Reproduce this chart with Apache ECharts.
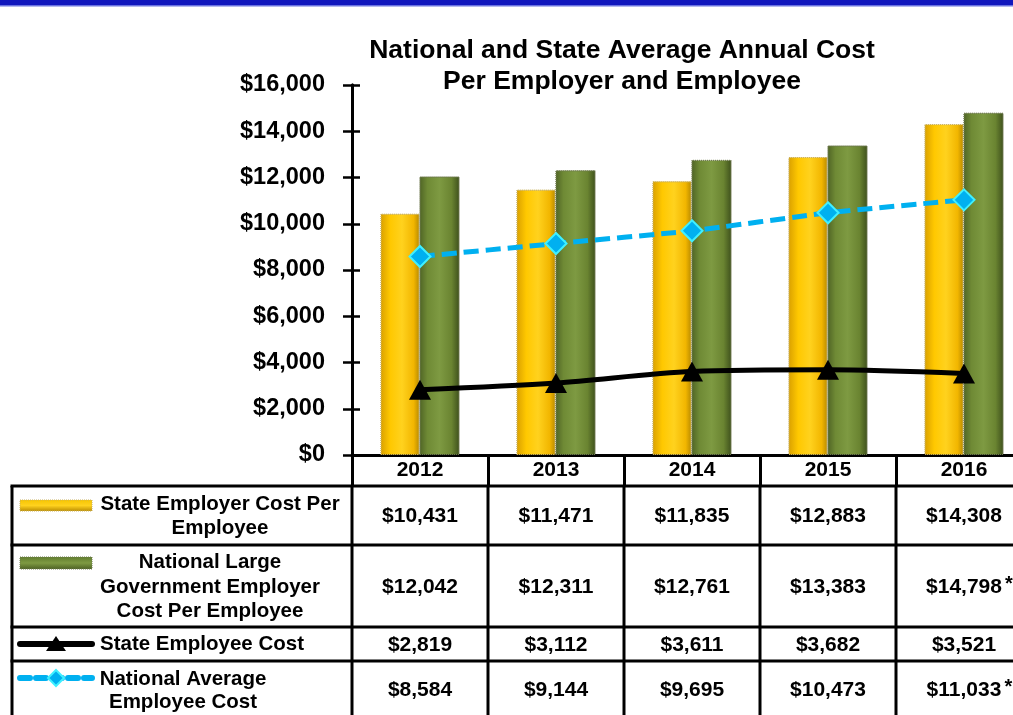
<!DOCTYPE html>
<html>
<head>
<meta charset="utf-8">
<script src="https://cdn.jsdelivr.net/npm/echarts@6/dist/echarts.min.js"></script>
<style>
  html, body { margin: 0; padding: 0; background: #ffffff; }
  #chart { width: 1013px; height: 715px; }
</style>
</head>
<body>
<div id="chart"></div>
<script>
// ---- data ----
const years = ['2012', '2013', '2014', '2015', '2016'];
const stateEmployer = [10431, 11471, 11835, 12883, 14308];
const nationalLargeGov = [12042, 12311, 12761, 13383, 14798];
const stateEmployee = [2819, 3112, 3611, 3682, 3521];
const nationalAvgEmployee = [8584, 9144, 9695, 10473, 11033];
const nationalLargeGovNotes = ['', '', '', '', '*'];
const nationalAvgEmployeeNotes = ['', '', '', '', '*'];
const rowLabels = [
  ['State Employer Cost Per', 'Employee'],
  ['National Large', 'Government Employer', 'Cost Per Employee'],
  ['State Employee Cost'],
  ['National Average', 'Employee Cost']
];
const yMin = 0, yMax = 16000, yStep = 2000;
const chartTitle = 'National and State Average Annual Cost\nPer Employer and Employee';

const FONT = '"Liberation Sans", Arial, sans-serif';
const money = v => '$' + v.toLocaleString('en-US');

const yellowFill = new echarts.graphic.LinearGradient(0, 0, 1, 0, [
  { offset: 0, color: '#D9A000' },
  { offset: 0.25, color: '#FFC800' },
  { offset: 0.55, color: '#FFD21E' },
  { offset: 0.85, color: '#F2B600' },
  { offset: 1, color: '#B88A00' }
]);
const greenFill = new echarts.graphic.LinearGradient(0, 0, 1, 0, [
  { offset: 0, color: '#4F6425' },
  { offset: 0.2, color: '#6F8A35' },
  { offset: 0.5, color: '#7E9A42' },
  { offset: 0.8, color: '#6A8431' },
  { offset: 1, color: '#3E501C' }
]);

const chart = echarts.init(document.getElementById('chart'), null, { renderer: 'canvas' });

const axisBlack = { color: '#000', width: 3 };

chart.setOption({
  animation: false,
  backgroundColor: '#ffffff',
  // plot runs past the right edge of the page, so the last column is cut
  grid: { left: 352, width: 680, top: 85, bottom: 260, containLabel: false, outerBoundsMode: 'none' },
  xAxis: {
    type: 'category',
    data: years,
    boundaryGap: true,
    axisLine: { lineStyle: axisBlack },
    axisTick: { show: true, interval: 0, length: 32, lineStyle: axisBlack },
    axisLabel: { color: '#000', fontFamily: FONT, fontWeight: 'bold', fontSize: 21, margin: 5 },
    splitLine: { show: false }
  },
  yAxis: [
    {
      type: 'value', min: yMin, max: yMax, interval: yStep,
      axisLine: { show: true, lineStyle: axisBlack },
      axisTick: { show: true, length: 9, lineStyle: { color: '#000', width: 2.5 } },
      axisLabel: {
        color: '#000', fontFamily: FONT, fontWeight: 'bold', fontSize: 23.5, margin: 27,
        formatter: v => money(v)
      },
      splitLine: { show: false }
    },
    {
      type: 'value', min: yMin, max: yMax, interval: yStep, position: 'left',
      axisLine: { show: true, lineStyle: axisBlack },
      axisTick: { show: true, inside: true, length: 8, lineStyle: { color: '#000', width: 2.5 } },
      axisLabel: { show: false },
      splitLine: { show: false }
    }
  ],
  series: [
    {
      name: rowLabels[0].join(' '), type: 'bar', data: stateEmployer,
      barWidth: 39, barGap: '0%',
      itemStyle: { color: yellowFill, borderColor: '#C9B060', borderWidth: 1, borderType: 'dotted' }
    },
    {
      name: rowLabels[1].join(' '), type: 'bar', data: nationalLargeGov,
      barWidth: 40, barGap: '0%',
      itemStyle: { color: greenFill, borderColor: '#6F7A50', borderWidth: 1, borderType: 'dotted' }
    },
    {
      name: rowLabels[3].join(' '), type: 'line', data: nationalAvgEmployee, z: 5,
      smooth: 0.15,
      lineStyle: { color: '#00B0F0', width: 5, type: [15, 7] },
      symbol: 'diamond', symbolSize: 21,
      itemStyle: { color: '#00B0F0', borderColor: '#40F0FF', borderWidth: 2 }
    },
    {
      name: rowLabels[2][0], type: 'line', data: stateEmployee, z: 6,
      smooth: 0.3,
      lineStyle: { color: '#000', width: 5 },
      symbol: 'triangle', symbolSize: [22, 20],
      itemStyle: { color: '#000' }
    }
  ]
});

// ---- data table under the plot ----
function buildTable() {
  const rect = chart.getModel().getComponent('grid').coordinateSystem.getRect();
  const centers = years.map((_, i) => chart.convertToPixel({ xAxisIndex: 0 }, i));
  const band = centers[1] - centers[0];
  const colEdges = [rect.x].concat(centers.map(c => c + band / 2));
  const tableLeft = 12;
  const tableRight = colEdges[colEdges.length - 1];
  const rowEdges = [486, 545, 627, 661, 745];
  const lineW = 3;
  const g = [];

  // top banner
  g.push({ type: 'rect', shape: { x: 0, y: 0, width: 1013, height: 5 }, style: { fill: '#1117BD' }, silent: true });
  g.push({ type: 'rect', shape: { x: 0, y: 5, width: 1013, height: 1.5 }, style: { fill: '#6A72E0' }, silent: true });

  // title
  g.push({
    type: 'text', x: 622, y: 35,
    style: {
      text: chartTitle, fill: '#000', font: 'bold 26.5px ' + FONT,
      textAlign: 'center', textVerticalAlign: 'top', lineHeight: 31
    }
  });

  // table rules
  rowEdges.slice(0, 4).forEach(y => {
    g.push({ type: 'line', shape: { x1: tableLeft - 1.5, y1: y, x2: tableRight, y2: y }, style: { stroke: '#000', lineWidth: lineW } });
  });
  g.push({ type: 'line', shape: { x1: tableLeft, y1: rowEdges[0], x2: tableLeft, y2: 715 }, style: { stroke: '#000', lineWidth: lineW } });
  colEdges.forEach(x => {
    g.push({ type: 'line', shape: { x1: x, y1: rowEdges[0], x2: x, y2: 715 }, style: { stroke: '#000', lineWidth: lineW } });
  });

  // cell values
  const rows = [
    { values: stateEmployer, notes: null, cy: 516 },
    { values: nationalLargeGov, notes: nationalLargeGovNotes, cy: 587 },
    { values: stateEmployee, notes: null, cy: 645 },
    { values: nationalAvgEmployee, notes: nationalAvgEmployeeNotes, cy: 690 }
  ];
  const measure = document.createElement('canvas').getContext('2d');
  const valueFont = 'bold 21px ' + FONT;
  measure.font = valueFont;
  rows.forEach(r => {
    r.values.forEach((v, i) => {
      const txt = money(v);
      g.push({
        type: 'text', x: centers[i], y: r.cy,
        style: { text: txt, fill: '#000', font: valueFont, textAlign: 'center', textVerticalAlign: 'middle' }
      });
      if (r.notes && r.notes[i]) {
        const w = measure.measureText(txt).width;
        g.push({
          type: 'text', x: centers[i] + w / 2 + 3, y: r.cy - 3,
          style: { text: r.notes[i], fill: '#000', font: 'bold 20px ' + FONT, textAlign: 'left', textVerticalAlign: 'middle' }
        });
      }
    });
  });

  // row headers
  const labelFont = 'bold 20.5px ' + FONT;
  const labelPos = [
    { cx: 220, ys: [504, 528] },
    { cx: 210, ys: [562, 587, 611] },
    { cx: 202, ys: [644] },
    { cx: 183, ys: [679, 702] }
  ];
  rowLabels.forEach((lines, r) => {
    lines.forEach((t, k) => {
      g.push({
        type: 'text', x: labelPos[r].cx, y: labelPos[r].ys[k],
        style: { text: t, fill: '#000', font: labelFont, textAlign: 'center', textVerticalAlign: 'middle' }
      });
    });
  });

  // legend keys
  const keyX1 = 20, keyX2 = 92, keyMid = 56;
  g.push({
    type: 'rect', shape: { x: keyX1, y: 500, width: keyX2 - keyX1, height: 11 },
    style: {
      fill: new echarts.graphic.LinearGradient(0, 0, 0, 1, [
        { offset: 0, color: '#F5C400' }, { offset: 0.5, color: '#FFD21E' }, { offset: 1, color: '#B88A00' }
      ]),
      stroke: '#C9B060', lineWidth: 1, lineDash: [1, 1]
    }
  });
  g.push({
    type: 'rect', shape: { x: keyX1, y: 557, width: keyX2 - keyX1, height: 12 },
    style: {
      fill: new echarts.graphic.LinearGradient(0, 0, 0, 1, [
        { offset: 0, color: '#5E7A2C' }, { offset: 0.5, color: '#7E9A42' }, { offset: 1, color: '#4A5E22' }
      ]),
      stroke: '#6F7A50', lineWidth: 1, lineDash: [1, 1]
    }
  });
  g.push({ type: 'line', shape: { x1: keyX1, y1: 644, x2: keyX2, y2: 644 }, style: { stroke: '#000', lineWidth: 6, lineCap: 'round' } });
  g.push({ type: 'polygon', shape: { points: [[keyMid, 636], [keyMid - 10, 651], [keyMid + 10, 651]] }, style: { fill: '#000' } });
  g.push({ type: 'line', shape: { x1: keyX1, y1: 678, x2: keyX2, y2: 678 }, style: { stroke: '#00B0F0', lineWidth: 6, lineDash: [10, 6], lineCap: 'round' } });
  g.push({ type: 'polygon', shape: { points: [[keyMid, 670], [keyMid + 8, 678], [keyMid, 686], [keyMid - 8, 678]] }, style: { fill: '#00B0F0', stroke: '#40F0FF', lineWidth: 2 } });

  chart.setOption({ graphic: { elements: g } });
}

buildTable();
</script>
</body>
</html>
